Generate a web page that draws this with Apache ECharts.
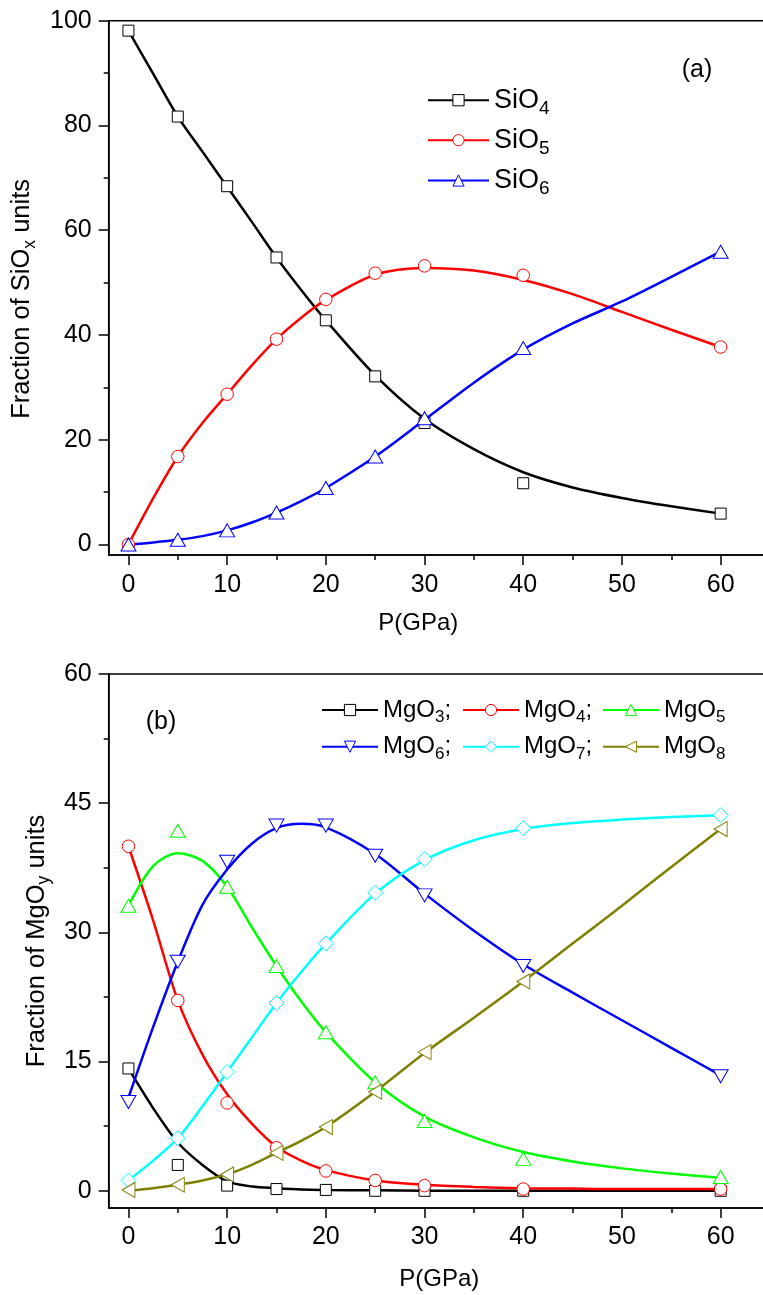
<!DOCTYPE html>
<html>
<head>
<meta charset="utf-8">
<title>SiOx / MgOy fractions</title>
<script src="https://cdn.jsdelivr.net/npm/echarts@6/dist/echarts.min.js"></script>
<style>
  html, body { margin: 0; padding: 0; background: #fff; }
  #chart { width: 763px; height: 1295px; }
</style>
</head>
<body>
<div id="chart"></div>
<script>
  // pressure points (GPa) where the data was sampled
  const pressure = [0, 5, 10, 15, 20, 25, 30, 40, 60]
  const fitP = [0, 2.5, 5, 7.5, 10, 12.5, 15, 17.5, 20, 25, 30, 35, 40, 45, 50, 55, 60]

  // (a) SiOx markers
  const sio4 = [98.1, 81.7, 68.4, 54.8, 42.8, 32.1, 23.2, 11.7, 5.9]
  const sio5 = [0, 16.8, 28.7, 39.2, 46.8, 51.8, 53.2, 51.4, 37.7]
  const sio6 = [0, 0.9, 2.7, 6.1, 10.8, 16.8, 24.1, 37.5, 55.9]
  // (a) fitted curves
  const sio4Fit = [98.1, 89.9, 81.7, 75.0, 68.3, 61.6, 54.8, 48.6, 42.8, 32.3, 24.0, 18.2, 13.8, 10.9, 8.9, 7.3, 5.9]
  const sio5Fit = [0, 8.8, 16.8, 23.2, 28.7, 34.2, 39.2, 43.3, 46.7, 51.5, 52.8, 52.3, 50.5, 47.8, 44.4, 41.0, 37.7]
  const sio6Fit = [0, 0.4, 0.9, 1.6, 2.7, 4.2, 6.1, 8.3, 10.8, 16.8, 23.8, 30.9, 37.2, 42.2, 46.4, 51.1, 55.9]

  // (b) MgOy markers
  const mgo3 = [14.2, 3.0, 0.6, 0.2, 0.1, 0, 0, 0, 0]
  const mgo4 = [40.0, 22.1, 10.2, 5.0, 2.3, 1.2, 0.6, 0.2, 0.2]
  const mgo5 = [33.1, 41.8, 35.3, 26.1, 18.4, 12.6, 8.1, 3.7, 1.6]
  const mgo6 = [10.3, 26.6, 38.2, 42.4, 42.4, 38.9, 34.3, 26.1, 13.3]
  const mgo7 = [1.2, 6.1, 13.8, 21.8, 28.7, 34.6, 38.5, 42.1, 43.6]
  const mgo8 = [0.1, 0.7, 1.9, 4.4, 7.4, 11.5, 16.1, 24.3, 42.0]
  // (b) fitted curves
  const mgo3Fit = [14.2, 9.6, 5.6, 3.0, 1.1, 0.5, 0.3, 0.15, 0.1, 0.05, 0, 0, 0, 0, 0, 0, 0]
  const mgo4Fit = [40.0, 31.4, 22.1, 15.8, 11.2, 7.8, 5.1, 3.5, 2.4, 1.2, 0.7, 0.45, 0.3, 0.25, 0.2, 0.2, 0.2]
  const mgo5Fit = [33.1, 37.7, 39.2, 38.3, 35.3, 30.6, 26.1, 22.0, 18.4, 12.6, 8.6, 6.2, 4.5, 3.4, 2.6, 2.0, 1.5]
  const mgo6Fit = [10.8, 19.0, 26.6, 33.2, 37.3, 40.3, 42.1, 42.6, 42.2, 39.1, 34.5, 30.2, 26.3, 23.0, 19.8, 16.6, 13.4]
  const mgo7Fit = [1.2, 3.5, 6.1, 9.8, 13.8, 17.8, 21.8, 25.4, 28.7, 34.5, 38.4, 40.7, 42.0, 42.7, 43.1, 43.4, 43.6]
  const mgo8Fit = [0, 0.3, 0.7, 1.2, 1.9, 3.0, 4.4, 5.8, 7.4, 11.5, 16.0, 20.1, 24.3, 28.7, 33.1, 37.6, 42.0]

  // ticks
  const xTicks = [0, 10, 20, 30, 40, 50, 60]
  const xMinor = [5, 15, 25, 35, 45, 55]
  const yTicksA = [0, 20, 40, 60, 80, 100]
  const yMinorA = [10, 30, 50, 70, 90]
  const yTicksB = [0, 15, 30, 45, 60]
  const yMinorB = [7.5, 22.5, 37.5, 52.5]

  const FONT = '"Liberation Sans", Arial, sans-serif'
  // 带下标的文字: 主字号 / 下标字号 / 行高 (行高决定下标下沉多少)
  function richStyle(size, subSize, lineH) {
    return {
      m: { fontSize: size, lineHeight: lineH, fontFamily: FONT, color: '#000', verticalAlign: 'middle' },
      s: { fontSize: subSize, fontFamily: FONT, color: '#000', verticalAlign: 'bottom' }
    }
  }
  const richAxis = richStyle(25.5, 17.5, 33)
  const richLegA = richStyle(27, 19, 36)
  const richLegB = richStyle(24, 17, 32)

  let mycharts = echarts.init(document.getElementById('chart'))

  // 主刻度轴
  function majorX(gridIndex, nameGap, namePad, labelMargin) {
    return {
      type: 'value', gridIndex: gridIndex, min: -2, max: 65, position: 'bottom',
      name: 'P(GPa)', nameLocation: 'middle', nameGap: nameGap,
      nameTextStyle: { fontSize: 24, fontFamily: FONT, color: '#000', padding: namePad },
      axisLine: { show: true, onZero: false, lineStyle: { color: '#000', width: 1.5 } },
      axisTick: { show: true, customValues: xTicks, length: 10, lineStyle: { color: '#000', width: 1.5 } },
      axisLabel: { show: true, customValues: xTicks, margin: labelMargin, fontSize: 25, fontFamily: FONT, color: '#000' },
      splitLine: { show: false }
    }
  }
  // 次刻度轴
  function minorX(gridIndex) {
    return {
      type: 'value', gridIndex: gridIndex, min: -2, max: 65, position: 'bottom',
      axisLine: { show: false, onZero: false },
      axisTick: { show: true, customValues: xMinor, length: 5, lineStyle: { color: '#000', width: 1.5 } },
      axisLabel: { show: false },
      splitLine: { show: false }
    }
  }
  function majorY(gridIndex, max, ticks, name, nameGap, namePad) {
    return {
      type: 'value', gridIndex: gridIndex, min: -2, max: max, position: 'left',
      name: name, nameLocation: 'middle', nameGap: nameGap, nameRotate: 90,
      nameTextStyle: { rich: richAxis, padding: namePad },
      axisLine: { show: true, onZero: false, lineStyle: { color: '#000', width: 1.5 } },
      axisTick: { show: true, customValues: ticks, length: 10, lineStyle: { color: '#000', width: 1.5 } },
      axisLabel: { show: true, customValues: ticks, margin: 17, fontSize: 25, fontFamily: FONT, color: '#000' },
      splitLine: { show: false }
    }
  }
  function minorY(gridIndex, max, ticks) {
    return {
      type: 'value', gridIndex: gridIndex, min: -2, max: max, position: 'left',
      axisLine: { show: false, onZero: false },
      axisTick: { show: true, customValues: ticks, length: 5, lineStyle: { color: '#000', width: 1.5 } },
      axisLabel: { show: false },
      splitLine: { show: false }
    }
  }

  // 拟合曲线 (legend icon comes from here)
  function fitLine(name, fit, color, symbol, size, rotate, axis) {
    return {
      name: name, type: 'line', xAxisIndex: axis, yAxisIndex: axis,
      data: fitP.map((p, i) => [p, fit[i]]),
      smooth: 0.3, showSymbol: false,
      symbol: symbol, symbolSize: size, symbolRotate: rotate,
      lineStyle: { color: color, width: 2.5 },
      itemStyle: { color: '#fff', borderColor: color, borderWidth: 1 },
      z: 2, silent: true
    }
  }
  // 数据点
  function points(name, vals, color, symbol, size, rotate, axis) {
    return {
      name: name, type: 'scatter', xAxisIndex: axis, yAxisIndex: axis,
      data: pressure.map((p, i) => [p, vals[i]]),
      symbol: symbol, symbolSize: size, symbolRotate: rotate,
      itemStyle: { color: '#fff', borderColor: color, borderWidth: 1, opacity: 1 },
      z: 3, silent: true
    }
  }

  const specs = [
    ['SiO4', sio4, sio4Fit, '#000000', 'rect', 11, 0, 0],
    ['SiO5', sio5, sio5Fit, '#ff0000', 'circle', 12.5, 0, 0],
    ['SiO6', sio6, sio6Fit, '#0000ff', 'triangle', [15, 13], 0, 0],
    ['MgO3', mgo3, mgo3Fit, '#000000', 'rect', 11, 0, 2],
    ['MgO4', mgo4, mgo4Fit, '#ff0000', 'circle', 12.5, 0, 2],
    ['MgO5', mgo5, mgo5Fit, '#00ff00', 'triangle', [15, 13], 0, 2],
    ['MgO6', mgo6, mgo6Fit, '#0000ff', 'triangle', [15, 13], 180, 2],
    ['MgO7', mgo7, mgo7Fit, '#00ffff', 'diamond', [15, 15], 0, 2],
    ['MgO8', mgo8, mgo8Fit, '#808000', 'triangle', [15, 13], 90, 2]
  ]
  const series = []
  specs.forEach(s => series.push(fitLine(s[0], s[2], s[3], s[4], s[5], s[6], s[7])))
  specs.forEach(s => series.push(points(s[0], s[1], s[3], s[4], s[5], s[6], s[7])))

  // 图例: one component per item so each sits where it should
  function legendItem(name, left, rowY, width, semi, rich) {
    return {
      data: [name], left: left, top: rowY - rich.m.lineHeight / 2, padding: 0, orient: 'horizontal',
      itemWidth: width, itemHeight: 14, selectedMode: false,
      itemStyle: { borderWidth: 1 },
      textStyle: { rich: rich },
      formatter: n => '{m|' + n.slice(0, 3) + '}{s|' + n.slice(3) + '}' + (semi ? '{m|;}' : '')
    }
  }

  mycharts.setOption({
    animation: false,
    backgroundColor: '#fff',
    grid: [
      { left: 108.7, top: 20.7, width: 661.3, height: 534.3, show: true, borderColor: '#000', borderWidth: 1.5, outerBoundsMode: 'none' },
      { left: 108.7, top: 674, width: 661.3, height: 534, show: true, borderColor: '#000', borderWidth: 1.5, outerBoundsMode: 'none' }
    ],
    xAxis: [majorX(0, 56, [0, 42, 0, 0], 18), minorX(0), majorX(1, 59, 0, 17), minorX(1)],
    yAxis: [
      majorY(0, 100, yTicksA, '{m|Fraction of SiO}{s|x}{m| units}', 70, [0, 22, 0, 0]),
      minorY(0, 100, yMinorA),
      majorY(1, 60, yTicksB, '{m|Fraction of MgO}{s|y}{m| units}', 53, 0),
      minorY(1, 60, yMinorB)
    ],
    legend: [
      legendItem('SiO4', 427, 104.7, 61, false, richLegA),
      legendItem('SiO5', 427, 144.7, 61, false, richLegA),
      legendItem('SiO6', 427, 185, 61, false, richLegA),
      legendItem('MgO3', 321, 714, 56, true, richLegB),
      legendItem('MgO4', 462, 714, 56, true, richLegB),
      legendItem('MgO5', 602, 714, 56, false, richLegB),
      legendItem('MgO6', 321, 750.7, 56, true, richLegB),
      legendItem('MgO7', 462, 750.7, 56, true, richLegB),
      legendItem('MgO8', 602, 750.7, 56, false, richLegB)
    ],
    graphic: [
      { type: 'text', x: 697, y: 70, style: { text: '(a)', fontSize: 25, fontFamily: FONT, fill: '#000', align: 'center', verticalAlign: 'middle' } },
      { type: 'text', x: 161, y: 722, style: { text: '(b)', fontSize: 25, fontFamily: FONT, fill: '#000', align: 'center', verticalAlign: 'middle' } }
    ],
    series: series
  })
</script>
</body>
</html>
